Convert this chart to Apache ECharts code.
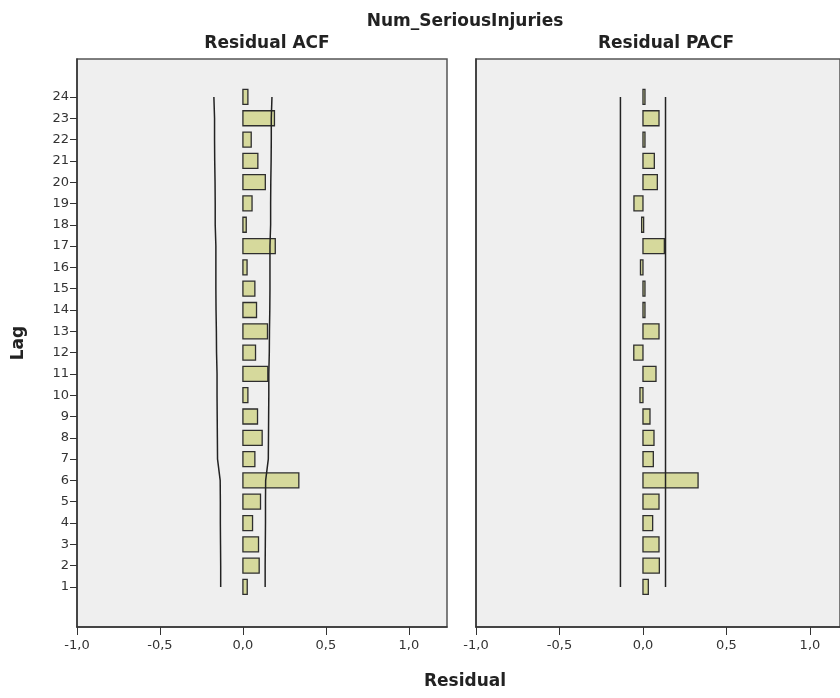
<!DOCTYPE html>
<html>
<head>
<meta charset="utf-8">
<script src="https://cdn.jsdelivr.net/npm/echarts@6/dist/echarts.min.js"></script>
<style>
  html, body { margin: 0; padding: 0; background: #fff; }
  #chart { width: 840px; height: 698px; }
</style>
</head>
<body>
<div id="chart"></div>
<script>
// lags 1..24
const lags = [1, 2, 3, 4, 5, 6, 7, 8, 9, 10, 11, 12, 13, 14, 15, 16, 17, 18, 19, 20, 21, 22, 23, 24]
// residual ACF per lag
const acf = [0.026, 0.098, 0.094, 0.058, 0.106, 0.337, 0.072, 0.116, 0.088, 0.030, 0.150, 0.076,
             0.148, 0.082, 0.072, 0.025, 0.195, 0.020, 0.055, 0.135, 0.090, 0.050, 0.190, 0.030]
// residual PACF per lag
const pacf = [0.032, 0.098, 0.096, 0.058, 0.096, 0.330, 0.062, 0.066, 0.042, -0.018, 0.078, -0.055,
              0.096, 0.010, 0.010, -0.015, 0.128, -0.008, -0.054, 0.086, 0.068, 0.005, 0.096, 0.005]
// confidence limits (upper; lower is the negative)
const acfLimit = [0.134, 0.134, 0.135, 0.136, 0.136, 0.137, 0.153, 0.154, 0.155, 0.156, 0.156, 0.159,
                  0.160, 0.162, 0.163, 0.163, 0.163, 0.167, 0.167, 0.168, 0.170, 0.171, 0.171, 0.175]
const pacfLimit = [0.135, 0.135, 0.135, 0.135, 0.135, 0.135, 0.135, 0.135, 0.135, 0.135, 0.135, 0.135,
                   0.135, 0.135, 0.135, 0.135, 0.135, 0.135, 0.135, 0.135, 0.135, 0.135, 0.135, 0.135]
const xTicks = [-1, -0.5, 0, 0.5, 1]

const fontFam = '"DejaVu Sans", Verdana, sans-serif'

function renderBar(params, api) {
    const v = api.value(0)
    const lag = api.value(1)
    const p0 = api.coord([0, lag])
    const p1 = api.coord([v, lag])
    const h = 15
    let w = Math.abs(p1[0] - p0[0])
    if (w < 2) w = 2
    return {
        type: 'rect',
        shape: { x: Math.min(p0[0], p1[0]), y: p0[1] - h / 2, width: w, height: h },
        style: { fill: '#d6d99c', stroke: '#2e2e2e', lineWidth: 1.3 }
    }
}

function xAxisFor(idx, max) {
    return {
        gridIndex: idx,
        type: 'value',
        min: -1,
        max: max,
        splitLine: { show: false },
        axisLine: { show: true, onZero: false, lineStyle: { color: '#333', width: 1.5 } },
        axisTick: { show: true, customValues: xTicks, length: 8, lineStyle: { color: '#333' } },
        axisLabel: {
            customValues: xTicks,
            margin: 12,
            fontFamily: fontFam,
            fontSize: 13,
            color: '#333',
            formatter: v => v.toFixed(1).replace('.', ',')
        }
    }
}

function yAxisFor(idx) {
    return {
        gridIndex: idx,
        type: 'value',
        min: -0.88,
        max: 25.78,
        splitLine: { show: false },
        axisLine: { show: true, onZero: false, lineStyle: { color: '#333', width: 1.5 } },
        axisTick: { show: idx === 0, customValues: lags, length: 7, lineStyle: { color: '#333' } },
        axisLabel: {
            show: idx === 0,
            customValues: lags,
            margin: 8,
            fontFamily: fontFam,
            fontSize: 13,
            color: '#333'
        },
        name: idx === 0 ? 'Lag' : '',
        nameLocation: 'middle',
        nameRotate: 90,
        nameGap: 50,
        nameTextStyle: { fontFamily: fontFam, fontSize: 17, fontWeight: 'bold', color: '#222' }
    }
}

function limitLine(idx, limits, sign) {
    return {
        type: 'line',
        xAxisIndex: idx,
        yAxisIndex: idx,
        data: lags.map((l, i) => [sign * limits[i], l]),
        showSymbol: false,
        silent: true,
        lineStyle: { color: '#222', width: 1.5 }
    }
}

const titleStyle = { fontFamily: fontFam, fontSize: 17, fontWeight: 'bold', color: '#222' }

let myChart = echarts.init(document.getElementById('chart'))

myChart.setOption({
    backgroundColor: '#fff',
    animation: false,
    title: [
        { text: 'Num_SeriousInjuries', left: 460, top: 8, textAlign: 'center', textStyle: titleStyle },
        { text: 'Residual ACF', left: 262, top: 30, textAlign: 'center', textStyle: titleStyle },
        { text: 'Residual PACF', left: 661, top: 30, textAlign: 'center', textStyle: titleStyle },
        { text: 'Residual', left: 460, top: 668, textAlign: 'center', textStyle: titleStyle }
    ],
    grid: [
        { left: 77, top: 59, width: 370, height: 568, show: true,
          backgroundColor: '#efefef', borderColor: '#555', borderWidth: 1.5 },
        { left: 476, top: 59, width: 364, height: 568, show: true,
          backgroundColor: '#efefef', borderColor: '#555', borderWidth: 1.5 }
    ],
    xAxis: [xAxisFor(0, 1.23), xAxisFor(1, 1.18)],
    yAxis: [yAxisFor(0), yAxisFor(1)],
    series: [
        limitLine(0, acfLimit, -1),
        limitLine(0, acfLimit, 1),
        limitLine(1, pacfLimit, -1),
        limitLine(1, pacfLimit, 1),
        {
            type: 'custom',
            xAxisIndex: 0,
            yAxisIndex: 0,
            renderItem: renderBar,
            encode: { x: 0, y: 1 },
            data: lags.map((l, i) => [acf[i], l])
        },
        {
            type: 'custom',
            xAxisIndex: 1,
            yAxisIndex: 1,
            renderItem: renderBar,
            encode: { x: 0, y: 1 },
            data: lags.map((l, i) => [pacf[i], l])
        }
    ]
})
</script>
</body>
</html>
